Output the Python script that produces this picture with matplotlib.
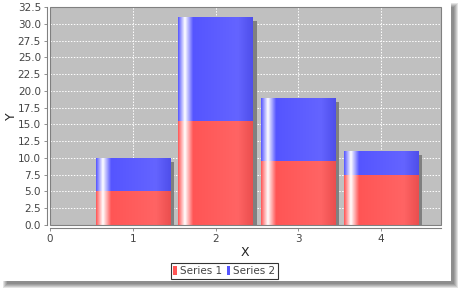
import numpy as np
import matplotlib
matplotlib.use('Agg')
import matplotlib.pyplot as plt
from matplotlib.patches import Rectangle, Patch
from matplotlib.transforms import offset_copy
from matplotlib.colors import to_rgb

# data
x_vals = [1, 2, 3, 4]
series1 = [5.0, 15.5, 9.5, 7.5]
series2 = [5.0, 15.5, 9.5, 3.5]
series_names = ['Series 1', 'Series 2']
series_colors = ['#ff5555', '#5555ff']
y_ticks = [0.0, 2.5, 5.0, 7.5, 10.0, 12.5, 15.0, 17.5, 20.0, 22.5, 25.0, 27.5, 30.0, 32.5]
x_ticks = [0, 1, 2, 3, 4]


def gradient_strip(color, n=200):
    # left highlight, white band, base, brighter, back to base (JFreeChart style)
    c0 = np.array(to_rgb(color))
    c1 = np.minimum(c0 / 0.85, 1.0)
    white = np.ones(3)
    stops = [(0.0, c0), (0.09, white), (0.20, c0), (0.80, c1), (1.0, c0 * 0.92)]
    t = np.linspace(0, 1, n)
    out = np.zeros((1, n, 3))
    for k in range(3):
        out[0, :, k] = np.interp(t, [s[0] for s in stops], [s[1][k] for s in stops])
    return out


fig = plt.figure(figsize=(4.59, 2.90), dpi=100)
fig.patch.set_facecolor('white')

# soft drop shadow behind the white chart panel
for k in range(5):
    fig.patches.append(Rectangle((3 + k, 2 + k), 455 - 2 * k, 285 - 2 * k,
                                 transform=None, facecolor='black', alpha=0.11,
                                 edgecolor='none', zorder=-3))
fig.patches.append(Rectangle((0, 9), 451, 281, transform=None, facecolor='white',
                             edgecolor='none', zorder=-2))

ax = fig.add_axes([50 / 459, 65 / 290, 391 / 459, 218 / 290])
ax.set_facecolor('#c0c0c0')

ax.grid(True, color='white', linestyle=(0, (1.5, 1.5)), linewidth=0.7)
ax.set_axisbelow(True)

shadow_tr = offset_copy(ax.transData, fig=fig, x=4, y=-4, units='dots')
bottoms = [0] * len(x_vals)
for vals, col in zip([series1, series2], series_colors):
    bars = ax.bar(x_vals, vals, width=0.9, bottom=bottoms, color=col, zorder=3,
                  linewidth=0)
    for b in bars:
        sh = Rectangle((b.get_x(), b.get_y()), b.get_width(), b.get_height(),
                       transform=shadow_tr, facecolor='#808080', edgecolor='none',
                       zorder=2)
        ax.add_patch(sh)
        x0, y0 = b.get_x(), b.get_y()
        im = ax.imshow(gradient_strip(col), extent=(x0, x0 + b.get_width(), y0, y0 + b.get_height()),
                       aspect='auto', zorder=3.5, interpolation='bilinear')
        im.set_clip_path(b)
    bottoms = [bt + v for bt, v in zip(bottoms, vals)]

ax.set_xlim(0, 4.725)
ax.set_ylim(0, 32.5)

# plot outline
ax.add_patch(Rectangle((0, 0), 1, 1, transform=ax.transAxes, fill=False,
                       edgecolor='#808080', linewidth=0.8, zorder=5, clip_on=False))

for s in ['top', 'right']:
    ax.spines[s].set_visible(False)
for s in ['left', 'bottom']:
    ax.spines[s].set_position(('outward', 2.5))
    ax.spines[s].set_color('#808080')
    ax.spines[s].set_linewidth(0.8)

ax.set_yticks(y_ticks)
ax.set_yticklabels(['%.1f' % v for v in y_ticks])
ax.set_xticks(x_ticks)
ax.tick_params(axis='both', colors='#808080', labelcolor='#444444', labelsize=7.5,
               length=2, width=0.6, pad=2)

ax.set_xlabel('X', fontsize=9, color='#222222')
ax.set_ylabel('Y', fontsize=9, color='#222222')
ax.xaxis.set_label_coords(0.4987, -0.096)
ax.yaxis.set_label_coords(-0.082, 0.5)

handles = [Patch(facecolor=c, edgecolor='none') for c in series_colors]
leg = fig.legend(handles, series_names, loc='center', bbox_to_anchor=(0.489, 0.065),
                 ncol=2, fontsize=7.5, frameon=True, fancybox=False, handlelength=0.35,
                 handleheight=1.0, handletextpad=0.3, columnspacing=0.4,
                 borderpad=0.25, borderaxespad=0)
leg.get_frame().set_edgecolor('black')
leg.get_frame().set_linewidth(0.8)
for t in leg.get_texts():
    t.set_color('#444444')

fig.savefig('out.png', dpi=100)
